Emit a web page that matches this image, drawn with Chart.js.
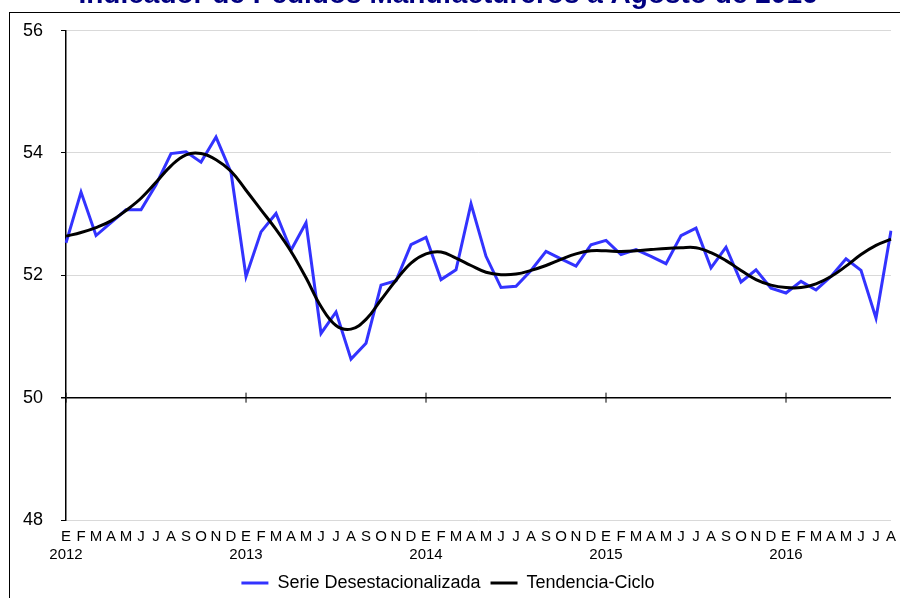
<!DOCTYPE html>
<html>
<head>
<meta charset="utf-8">
<script src="https://cdn.jsdelivr.net/npm/chart.js@4.4.1/dist/chart.umd.min.js"></script>
<style>
  html, body { margin: 0; padding: 0; background: #fff; overflow: hidden; }
  body { width: 900px; height: 598px; position: relative; }
  #frame { position: absolute; left: 9px; top: 12px; width: 900px; height: 600px;
           border-left: 1.5px solid #000; border-top: 1.5px solid #000; }
  #wrap { position: absolute; left: 0; top: -22px; width: 900px; height: 624px; }
</style>
</head>
<body>
<div id="frame"></div>
<div id="wrap"><canvas id="myChart"></canvas></div>
<script>
const months = ['E', 'F', 'M', 'A', 'M', 'J', 'J', 'A', 'S', 'O', 'N', 'D'];
const years = ['2012', '2013', '2014', '2015', '2016'];
const lastMonth = 8; // agosto 2016

const serie = [52.53, 53.36, 52.65, 52.86, 53.07, 53.07, 53.48, 53.99, 54.02, 53.85, 54.26, 53.68,
               51.98, 52.71, 53.01, 52.41, 52.86, 51.05, 51.40, 50.63, 50.89, 51.84, 51.91, 52.50,
               52.62, 51.93, 52.09, 53.17, 52.31, 51.80, 51.82, 52.08, 52.39, 52.27, 52.15, 52.50,
               52.57, 52.34, 52.42, 52.31, 52.19, 52.65, 52.77, 52.12, 52.46, 51.89, 52.09, 51.79,
               51.71, 51.90, 51.76, 51.98, 52.27, 52.08, 51.30, 52.73];

const tendencia = [52.64, 52.70, 52.78, 52.89, 53.06, 53.26, 53.52, 53.79, 53.97, 53.99, 53.89, 53.70,
                   53.39, 53.07, 52.75, 52.39, 51.96, 51.49, 51.18, 51.12, 51.28, 51.60, 51.92, 52.20,
                   52.35, 52.38, 52.28, 52.16, 52.05, 52.01, 52.02, 52.08, 52.16, 52.26, 52.35, 52.40,
                   52.40, 52.39, 52.40, 52.42, 52.44, 52.45, 52.45, 52.37, 52.24, 52.08, 51.93, 51.84,
                   51.80, 51.80, 51.86, 51.98, 52.15, 52.34, 52.49, 52.59];

// E/2012, F, M ... one label per month
let labels = [];
years.forEach((yr, i) => {
    let n = i == years.length - 1 ? lastMonth : 12;
    for (let m = 0; m < n; m++) {
        labels.push(m == 0 ? [months[m], yr] : months[m]);
    }
});

// little year marks across the 50 line
const yearTicks = {
    id: 'yearTicks',
    afterDatasetsDraw(chart) {
        const c = chart.ctx, x = chart.scales.x, y = chart.scales.y;
        const y50 = y.getPixelForValue(50);
        c.save();
        c.strokeStyle = '#000';
        c.lineWidth = 1;
        labels.forEach((l, i) => {
            if (Array.isArray(l)) {
                const px = x.getPixelForValue(i);
                c.beginPath();
                c.moveTo(px, y50 - 5);
                c.lineTo(px, y50 + 5);
                c.stroke();
            }
        });
        c.restore();
    }
};

const ctx = document.getElementById('myChart').getContext('2d');
const myChart = new Chart(ctx, {
    type: 'line',
    data: {
        labels: labels,
        datasets: [{
            label: 'Serie Desestacionalizada',
            data: serie,
            borderColor: '#3333ff',
            backgroundColor: '#3333ff',
            borderWidth: 3,
            pointRadius: 0,
            tension: 0,
            order: 2
        }, {
            label: 'Tendencia-Ciclo',
            data: tendencia,
            borderColor: '#000000',
            backgroundColor: '#000000',
            borderWidth: 3,
            pointRadius: 0,
            tension: 0.4,
            order: 1
        }]
    },
    options: {
        responsive: true,
        maintainAspectRatio: false,
        animation: false,
        layout: { padding: { left: 5, right: 9, top: 0, bottom: 0 } },
        plugins: {
            title: {
                display: true,
                text: 'Indicador de Pedidos Manufactureros a Agosto de 2016',
                color: '#000080',
                font: { family: 'Arial, "Liberation Sans"', size: 28, weight: 'bold' },
                padding: { top: 0, bottom: 19 }
            },
            legend: {
                position: 'bottom',
                labels: {
                    color: '#000',
                    font: { family: 'Arial, "Liberation Sans"', size: 18 },
                    boxWidth: 27,
                    boxHeight: 3,
                    padding: 10,
                    sort: (a, b) => a.datasetIndex - b.datasetIndex,
                    generateLabels(chart) {
                        const items = Chart.defaults.plugins.legend.labels.generateLabels(chart);
                        items.forEach(it => { it.lineWidth = 0; });
                        return items;
                    }
                }
            },
            tooltip: { enabled: false }
        },
        scales: {
            x: {
                grid: { display: false },
                border: { display: false },
                ticks: {
                    color: '#000',
                    autoSkip: false,
                    maxRotation: 0,
                    padding: 0,
                    font: { family: 'Arial, "Liberation Sans"', size: 15 }
                }
            },
            y: {
                min: 48,
                max: 56,
                ticks: {
                    stepSize: 2,
                    color: '#000',
                    padding: 18,
                    font: { family: 'Arial, "Liberation Sans"', size: 18 }
                },
                grid: {
                    color: c => c.tick && c.tick.value == 50 ? '#000000' : '#d9d9d9',
                    lineWidth: c => c.tick && c.tick.value == 50 ? 1.5 : 1,
                    tickColor: '#000',
                    tickLength: 5
                },
                border: { color: '#000', width: 1.5 }
            }
        }
    },
    plugins: [yearTicks]
});
</script>
</body>
</html>
